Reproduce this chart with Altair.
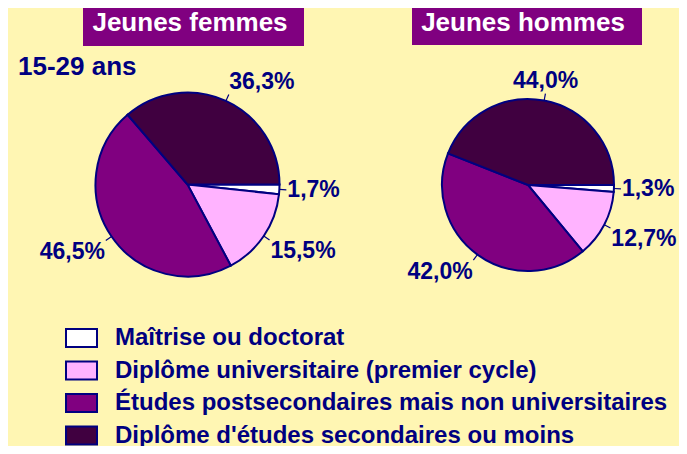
import math
import altair as alt
import pandas as pd

# ---------------- data ----------------
categories = [
    "Maîtrise ou doctorat",
    "Diplôme universitaire (premier cycle)",
    "Études postsecondaires mais non universitaires",
    "Diplôme d'études secondaires ou moins",
]
femmes = [1.7, 15.5, 46.5, 36.3]
hommes = [1.3, 12.7, 42.0, 44.0]
groups = ["F", "H"]
panel_titles = ["Jeunes femmes", "Jeunes hommes"]
subtitle = "15-29 ans"
colors = ["#FFFFFF", "#FFB3FF", "#800080", "#400040"]

rows = []
for g, vals in zip(groups, [femmes, hommes]):
    for i, (c, v) in enumerate(zip(categories, vals)):
        rows.append({"sex": g, "idx": i, "cat": c, "value": v})
df = pd.DataFrame(rows)

# ---------------- style ----------------
NAVY = "#000080"
PURPLE = "#800080"
BG = "#FFF6B3"
FONT = "Liberation Sans"
W, H = 671, 438
# pie geometry (centre x, centre y, radius) in chart pixels
pies = {"F": (179.5, 176.5, 92), "H": (520, 177, 86)}

base = alt.Chart(df)

color = alt.Color(
    "cat:N",
    scale=alt.Scale(domain=categories, range=colors),
    legend=alt.Legend(
        title=None,
        orient="none",
        legendX=57,
        legendY=313.5,
        symbolType="M-1,-0.58H1V0.58H-1Z",
        symbolSize=961,
        symbolStrokeColor=NAVY,
        symbolStrokeWidth=2,
        symbolOpacity=1,
        labelFont=FONT,
        labelFontSize=24,
        labelFontWeight="bold",
        labelColor=NAVY,
        labelOffset=17,
        labelLimit=800,
        rowPadding=2.5,
        padding=0,
    ),
)

layers = []

for g in groups:
    cx, cy, r = pies[g]
    sub = base.transform_filter(alt.datum.sex == g)
    arcs = sub.mark_arc(radius=r, stroke=NAVY, strokeWidth=2).encode(
        x=alt.value(cx),
        y=alt.value(cy),
        theta=alt.Theta(
            "value:Q",
            stack=True,
            scale=alt.Scale(range=[math.pi / 2, math.pi / 2 + 2 * math.pi]),
        ),
        color=color,
        order=alt.Order("idx:Q"),
    )
    layers.append(arcs)

    ang = (
        sub.transform_window(cum="sum(value)", sort=[alt.SortField("idx")])
        .transform_joinaggregate(total="sum(value)")
        .transform_calculate(
            mid="PI/2 + 2*PI*(datum.cum - datum.value/2)/datum.total",
        )
        .transform_calculate(
            s="sin(datum.mid)",
            c="cos(datum.mid)",
            lbl="replace(format(datum.value, '.1f'), '.', ',') + '%'",
            t0=f"datum.mid - 0.6/{r + 4}",
            t1=f"datum.mid + 0.6/{r + 4}",
        )
    )

    ticks = ang.mark_arc(radius=r + 7, radius2=r, color=NAVY).encode(
        x=alt.value(cx),
        y=alt.value(cy),
        theta=alt.Theta("t0:Q", scale=None, stack=False),
        theta2="t1:Q",
    )
    layers.append(ticks)

    aligns = {
        "left": "datum.s > 0.3",
        "center": "abs(datum.s) <= 0.3",
        "right": "datum.s < -0.3",
    }
    baselines = {
        "bottom": "datum.c > 0.3",
        "middle": "abs(datum.c) <= 0.3",
        "top": "datum.c < -0.3",
    }
    for al, cond_a in aligns.items():
        for bl, cond_b in baselines.items():
            txt = (
                ang.transform_filter(f"({cond_a}) && ({cond_b})")
                .mark_text(
                    radius=r + 8,
                    align=al,
                    baseline=bl,
                    font=FONT,
                    fontSize=23,
                    fontWeight="bold",
                    color=NAVY,
                )
                .encode(
                    x=alt.value(cx),
                    y=alt.value(cy),
                    theta=alt.Theta("mid:Q", scale=None, stack=False),
                    text="lbl:N",
                )
            )
            layers.append(txt)

# title boxes
boxes = [(75, 296, 0, 38, 182, 15), (404, 634, 0, 37, 515, 15)]
for t, (x1, x2, y1, y2, tx, ty) in zip(panel_titles, boxes):
    tb = alt.Chart(pd.DataFrame({"t": [t]}))
    layers.append(
        tb.mark_rect(color=PURPLE).encode(
            x=alt.value(x1), x2=alt.value(x2), y=alt.value(y1), y2=alt.value(y2)
        )
    )
    layers.append(
        tb.mark_text(
            font=FONT, fontSize=26, fontWeight="bold", color="white",
            align="center", baseline="middle",
        ).encode(x=alt.value(tx), y=alt.value(ty), text="t:N")
    )

layers.append(
    alt.Chart(pd.DataFrame({"t": [subtitle]}))
    .mark_text(
        font=FONT, fontSize=26, fontWeight="bold", color=NAVY,
        align="left", baseline="middle",
    )
    .encode(x=alt.value(10), y=alt.value(59), text="t:N")
)

chart = (
    alt.layer(*layers)
    .properties(
        width=W,
        height=H,
        autosize=alt.AutoSizeParams(type="none"),
        padding=0,
        background=BG,
    )
    .configure_view(stroke=None)
)

chart.save("out.html", embed_options={"renderer": "svg", "actions": False})
